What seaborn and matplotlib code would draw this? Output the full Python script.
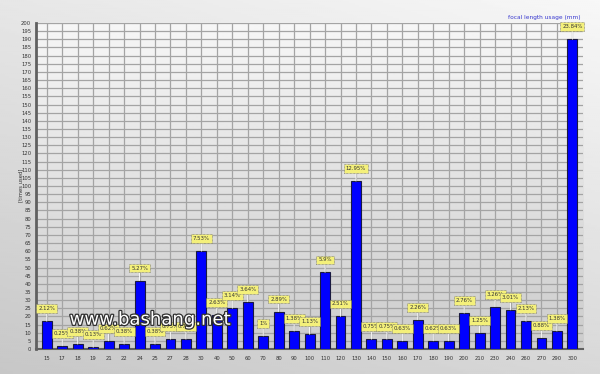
import numpy as np
import pandas as pd
import matplotlib
matplotlib.use("Agg")
import matplotlib.pyplot as plt
import matplotlib.patheffects as pe
import seaborn as sns

focal = ["15", "17", "18", "19", "21", "22", "24", "25", "27", "28",
         "30", "40", "50", "60", "70", "80", "90", "100", "110", "120",
         "130", "140", "150", "160", "170", "180", "190", "200", "210", "230",
         "240", "260", "270", "290", "300"]
times_used = [17, 2, 3, 1, 5, 3, 42, 3, 6, 6,
              60, 21, 25, 29, 8, 23, 11, 9, 47, 20,
              103, 6, 6, 5, 18, 5, 5, 22, 10, 26,
              24, 17, 7, 11, 190]
pct_labels = ["2.12%", "0.25%", "0.38%", "0.13%", "0.62%", "0.38%", "5.27%", "0.38%", "0.75%", "0.75%",
              "7.53%", "2.63%", "3.14%", "3.64%", "1%", "2.89%", "1.38%", "1.13%", "5.9%", "2.51%",
              "12.95%", "0.75%", "0.75%", "0.63%", "2.26%", "0.62%", "0.63%", "2.76%", "1.25%", "3.26%",
              "3.01%", "2.13%", "0.88%", "1.38%", "23.84%"]
title = "focal length usage (mm)"
ylabel = "[times used]"
watermark = "www.bashang.net"

df = pd.DataFrame({"focal": focal, "times": times_used})

sns.set_theme(style="white")
plt.rcParams["font.family"] = ["DejaVu Sans"]

fig = plt.figure(figsize=(6.0, 3.74), dpi=100)

# figure background gradient
bg = fig.add_axes([0, 0, 1, 1], zorder=-10)
yy, xx = np.mgrid[0:1:200j, 0:1:300j]
g = 0.78 + 0.19 * (0.65 * (1 - yy) + 0.35 * xx)
bg.imshow(g, cmap="gray", vmin=0, vmax=1, aspect="auto", extent=[0, 1, 0, 1], origin="upper")
bg.set_axis_off()

ax = fig.add_axes([0.060, 0.0668, 0.912, 0.8717])
# plot area gradient
grad = np.linspace(0.965, 0.80, 200).reshape(-1, 1)
ax.imshow(grad, cmap="gray", vmin=0, vmax=1, aspect="auto",
          extent=[-0.7, 34.7, 0, 200], origin="upper", zorder=0)

sns.barplot(data=df, x="focal", y="times", order=focal, color="#0000ff",
            saturation=1, width=0.64, edgecolor="#1a1a40", linewidth=0.8,
            ax=ax, zorder=3)

ax.set_xlim(-0.7, 34.7)
ax.set_ylim(0, 200)
ax.set_yticks(np.arange(0, 201, 5))
ax.set_xticks(range(len(focal)))
ax.set_xticklabels(focal)
ax.tick_params(axis="both", labelsize=3.8, colors="#333333", length=2, width=0.5, pad=1.5)
ax.tick_params(axis="x", pad=3)
ax.grid(True, color="#a4a4a4", linewidth=0.9, zorder=1)
ax.set_axisbelow(True)
for s in ["top", "right"]:
    ax.spines[s].set_visible(False)
ax.spines["left"].set_color("#606060")
ax.spines["left"].set_linewidth(2)
ax.spines["bottom"].set_color("#606060")
ax.spines["bottom"].set_linewidth(1.5)
ax.set_xlabel("")
ax.set_ylabel("")

for i, (v, lab) in enumerate(zip(times_used, pct_labels)):
    ax.annotate(lab, xy=(i, v), xytext=(0, 9), textcoords="offset points",
                ha="center", va="center", fontsize=3.9, color="#333333", zorder=6,
                bbox=dict(boxstyle="square,pad=0.35", fc="#f4f07a", ec="#707070",
                          lw=0.5, ls=(0, (1, 1))),
                arrowprops=dict(arrowstyle="-", color="white", lw=0.6, shrinkA=0, shrinkB=0))

fig.text(0.034, 0.505, ylabel, rotation=90, fontsize=3.8, color="#333333",
         ha="center", va="center")
fig.text(0.968, 0.952, title, fontsize=4.2, color="#3a3ad0", ha="right", va="center")

fig.text(0.250, 0.145, watermark, fontsize=13, color="white", ha="center", va="center",
         zorder=20, path_effects=[pe.withStroke(linewidth=1.8, foreground="#303030")])

fig.savefig("out.png", dpi=100)
